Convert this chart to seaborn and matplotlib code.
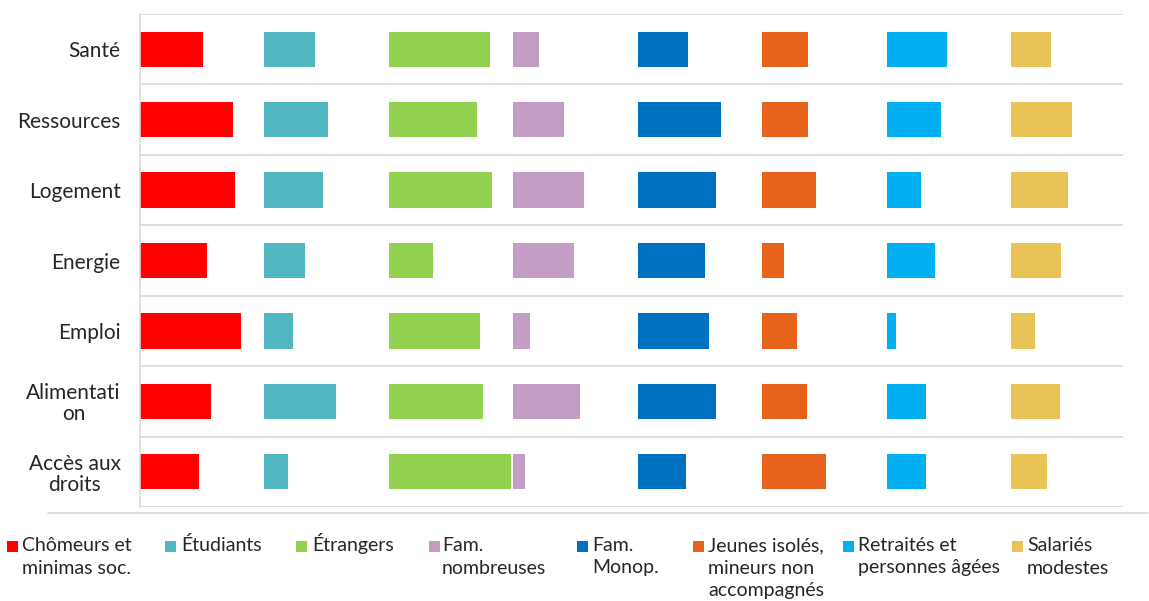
import numpy as np
import pandas as pd
import matplotlib
matplotlib.use("Agg")
import matplotlib.pyplot as plt
from matplotlib.patches import Rectangle
from matplotlib.lines import Line2D
import seaborn as sns

# ================================
# Donnees (en %)
# ================================
categories = ["Santé", "Ressources", "Logement", "Energie", "Emploi",
              "Alimentati\non", "Accès aux\ndroits"]

chomeurs  = [25.3, 37.4, 38.2, 26.9, 40.6, 28.4, 23.6]
etudiants = [20.5, 25.7, 23.7, 16.5, 11.3, 28.9, 9.5]
etrangers = [40.6, 35.4, 41.4, 17.7, 36.7, 37.7, 49.2]
fam_nomb  = [10.5, 20.5, 28.5, 24.2, 6.7, 26.8, 4.8]
fam_monop = [20.1, 33.5, 31.5, 27.2, 28.7, 31.5, 19.2]
jeunes    = [18.4, 18.4, 21.6, 8.8, 14.1, 18.0, 25.8]
retraites = [24.4, 22.0, 13.9, 19.6, 3.9, 15.7, 15.7]
salaries  = [16.2, 24.4, 22.9, 20.1, 9.6, 19.6, 14.4]

series_labels = ["Chômeurs et\nminimas soc.", "Étudiants", "Étrangers",
                 "Fam.\nnombreuses", "Fam.\nMonop.",
                 "Jeunes isolés,\nmineurs non\naccompagnés",
                 "Retraités et\npersonnes âgées", "Salariés\nmodestes"]
series_values = [chomeurs, etudiants, etrangers, fam_nomb, fam_monop,
                 jeunes, retraites, salaries]
colors = ["#FF0000", "#52B6C1", "#92D050", "#C49DC5", "#0070C0",
          "#E5631A", "#00B0F0", "#E8C456"]

# ================================
# Mise en page
# ================================
sns.set_theme(style="white")
plt.rcParams['font.family'] = ['Lato', 'DejaVu Sans']

W, H = 1149, 601
fig = plt.figure(figsize=(W / 100, H / 100), dpi=100)
ax = fig.add_axes([140 / W, 1 - 507 / H, (1123 - 140) / W, (507 - 14) / H])

slot = 50  # chaque groupe occupe une tranche de 50 %
for i, (vals, col) in enumerate(zip(series_values, colors)):
    df = pd.DataFrame({"cat": categories, "val": vals})
    n0 = len(ax.patches)
    sns.barplot(data=df, x="val", y="cat", color=col, orient="h",
                width=0.5, saturation=1, ax=ax)
    for p in ax.patches[n0:]:
        p.set_x(p.get_x() + i * slot)
        p.set_linewidth(0)

ax.set_xlim(0, 8 * slot - 5)
ax.set_ylim(len(categories) - 0.5, -0.5)
ax.set_xlabel("")
ax.set_ylabel("")
ax.set_xticks([])
for yy in np.arange(-0.5, len(categories), 1.0):
    ax.axhline(yy, color="#D9D9D9", lw=1.2, zorder=0)
for s in ["top", "right", "bottom"]:
    ax.spines[s].set_visible(False)
ax.spines["left"].set_color("#D9D9D9")
ax.spines["left"].set_linewidth(1.2)
ax.tick_params(axis="y", length=0, pad=14, labelsize=15, labelcolor="#262626")
for lab in ax.get_yticklabels():
    lab.set_multialignment("center")
    lab.set_linespacing(1.05)

# ligne de separation sous le graphique
fig.add_artist(Line2D([48 / W, 1148 / W], [1 - 513 / H, 1 - 513 / H],
                      color="#D9D9D9", lw=1.2))

# ================================
# Legende (une ligne de texte a la fois)
# ================================
marker_x = [7, 165, 296, 429, 577, 693, 843, 1012]
text_x = [22, 181, 312, 442, 592, 708, 858, 1027]
for lab, col, mx, tx in zip(series_labels, colors, marker_x, text_x):
    fig.add_artist(Rectangle((mx / W, 1 - 552 / H), 11 / W, 11 / H,
                             facecolor=col, edgecolor="none",
                             transform=fig.transFigure))
    for j, line in enumerate(lab.split("\n")):
        fig.text(tx / W, 1 - (551 + 22.5 * j) / H, line, ha="left",
                 va="baseline", fontsize=14, color="#262626")

fig.savefig("out.png", dpi=100, facecolor="white")
